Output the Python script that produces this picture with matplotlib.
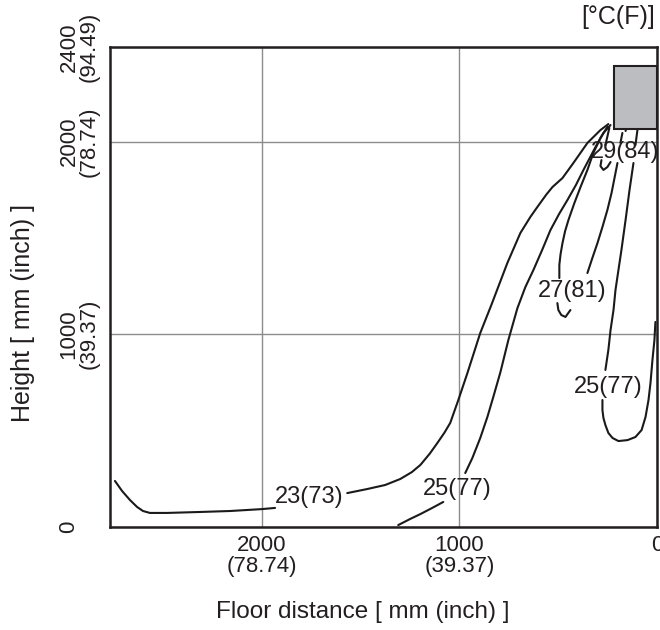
import numpy as np
import matplotlib
matplotlib.use('Agg')
import matplotlib.pyplot as plt

plt.rcParams['font.family'] = ['Liberation Sans', 'DejaVu Sans']

# isotherm traces, floor distance [mm] and height [mm]
x23a = [2742, 2706, 2666, 2630, 2600, 2565, 2478, 2311, 2159, 1997, 1932]
y23a = [239, 187, 140, 104, 83, 73, 73, 78, 83, 93, 99]
x23b = [1567, 1466, 1375, 1299, 1240, 1197, 1150, 1111, 1075, 1046, 1005, 959, 894, 838, 757, 691, 640, 605, 560, 529, 478, 423, 352, 286, 246]
y23b = [176, 197, 218, 249, 285, 322, 380, 436, 490, 540, 659, 799, 1007, 1152, 1370, 1526, 1610, 1661, 1725, 1764, 1811, 1889, 1993, 2060, 2091]

x25a = [1309, 1248, 1197, 1137, 1081]
y25a = [10, 42, 67, 99, 130]
x25b = [970, 934, 894, 858, 828, 792, 752, 706, 666, 625, 580, 539, 495, 453, 410, 372, 311, 271, 235]
y25b = [280, 358, 462, 571, 675, 804, 970, 1136, 1245, 1334, 1440, 1541, 1625, 1697, 1775, 1853, 1972, 2045, 2086]

x27a = [251, 286, 322, 352, 387, 418, 448, 465, 478, 488, 494, 494]
y27a = [2076, 2019, 1941, 1853, 1764, 1681, 1593, 1535, 1474, 1415, 1360, 1292]
x27b = [504, 499, 484, 463, 438]
y27b = [1162, 1126, 1100, 1090, 1126]
x27c = [352, 327, 301, 276, 251, 230, 215, 200]
y27c = [1318, 1396, 1474, 1557, 1645, 1733, 1811, 1889]
x27d = [185, 175]
y27d = [1993, 2045]

x29a = [241, 261]
y29a = [2071, 1982]
x29b = [281, 286, 271, 251, 235]
y29b = [1904, 1873, 1853, 1868, 1894]
x29c = [159, 150]
y29c = [2055, 2090]

x25r_a = [99, 109]
y25r_a = [2060, 1982]
x25r_b = [119, 139, 159, 180, 195, 210, 220, 235, 246, 261]
y25r_b = [1889, 1749, 1593, 1437, 1334, 1230, 1126, 1022, 919, 815]
x25r_c = [276, 276, 271, 261, 246, 225, 195, 149, 109, 78, 58, 43, 33, 23, 13, 8]
y25r_c = [659, 607, 566, 529, 488, 462, 446, 451, 467, 503, 571, 659, 747, 867, 970, 1064]

# contour labels
labels = ['23(73)', '25(77)', '27(81)', '29(84)', '25(77)']
label_x = [1759, 1010, 428, 162, 246]
label_y = [156, 197, 1225, 1946, 727]

# air outlet unit
unit_x = [0, 220]
unit_y = [2065, 2392]

xticks = [2000, 1000, 0]
xticklabels = ['2000\n(78.74)', '1000\n(39.37)', '0']
yticks = [0, 1000, 2000, 2491]
yticklabels = ['0\n ', '1000\n(39.37)', '2000\n(78.74)', '2400\n(94.49)']

fig = plt.figure(figsize=(6.6, 6.3), dpi=100)
ax = fig.add_axes([110 / 660, 1 - 527 / 630, 547 / 660, 480 / 630])

ax.set_xlim(2767, 0)
ax.set_ylim(0, 2491)
ax.grid(True, color='#8c8c8c', lw=1.0)
ax.set_axisbelow(True)

for xs, ys in [(x23a, y23a), (x23b, y23b), (x25a, y25a), (x25b, y25b),
               (x27a, y27a), (x27b, y27b), (x27c, y27c), (x27d, y27d),
               (x29a, y29a), (x29b, y29b), (x29c, y29c),
               (x25r_a, y25r_a), (x25r_b, y25r_b), (x25r_c, y25r_c)]:
    ax.plot(xs, ys, color='#1a1a1a', lw=1.5, solid_capstyle='round', solid_joinstyle='round')

for t, lx, ly in zip(labels, label_x, label_y):
    ax.text(lx, ly, t, ha='center', va='center', fontsize=17, color='#231f20')

ax.add_patch(plt.Rectangle((unit_x[0], unit_y[0]), unit_x[1] - unit_x[0], unit_y[1] - unit_y[0],
                           facecolor='#bcbdc0', edgecolor='#231f20', lw=1.5, zorder=3))

ax.set_xticks(xticks)
ax.set_xticklabels(xticklabels, fontsize=16, linespacing=0.95)
ax.set_yticks(yticks)
ax.set_yticklabels(yticklabels, fontsize=16, rotation=90, va='center', ha='right',
                   linespacing=0.95, multialignment='center')
ax.tick_params(length=0, colors='#231f20')
ax.tick_params(axis='x', pad=6)
ax.tick_params(axis='y', pad=7.5)
for s in ax.spines.values():
    s.set_linewidth(1.8)
    s.set_color('#231f20')

fig.text(363 / 660, 1 - 612 / 630, 'Floor distance [ mm (inch) ]', ha='center', va='center',
         fontsize=17.5, color='#231f20')
fig.text(23 / 660, 1 - 313 / 630, 'Height [ mm (inch) ]', ha='center', va='center',
         rotation=90, fontsize=18, color='#231f20')
fig.text(655 / 660, 1 - 17 / 630, '[°C(F)]', ha='right', va='center', fontsize=18, color='#231f20')

fig.savefig('out.png', dpi=100)
